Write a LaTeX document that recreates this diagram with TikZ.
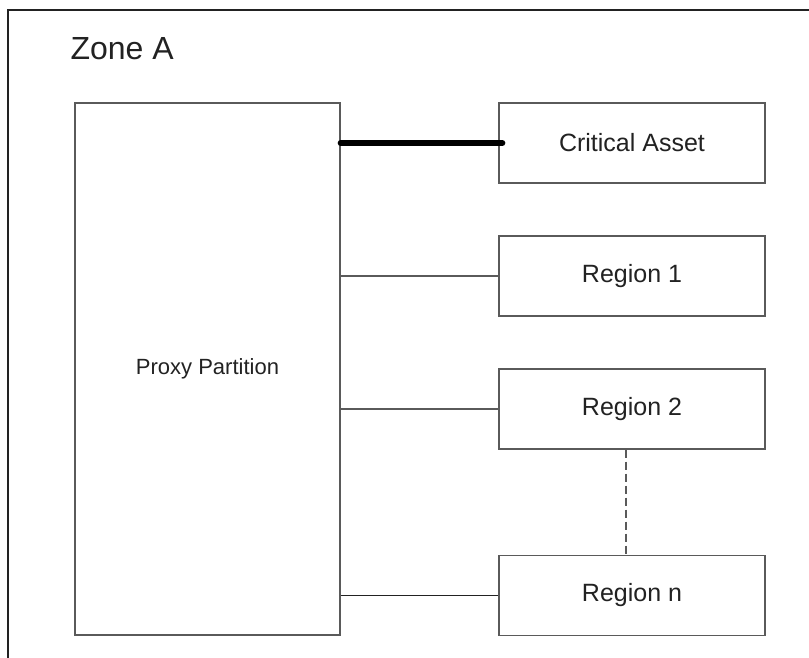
\documentclass[tikz,border=0pt]{standalone}
\usepackage{fontspec}
\setmainfont{Liberation Sans}
\usetikzlibrary{calc}
\definecolor{edge}{HTML}{5A5A5A}
\definecolor{ink}{HTML}{222222}
\tikzset{
  box/.style={draw=edge, line width=1.3pt, fill=white, inner sep=0pt},
  link/.style={draw=edge, line width=1.1pt},
  boldlink/.style={draw=black, line width=6pt, line cap=round},
  dotlink/.style={draw=edge, line width=1.1pt, dash pattern=on 8pt off 4pt},
  lbl/.style={text=ink, font=\fontsize{25}{30}\selectfont}
}
\begin{document}
\begin{tikzpicture}[x=1pt, y=-1pt]
  \useasboundingbox (0,0) rectangle (809,657);
  % zone frame, running past the right and bottom edges
  \coordinate (zr) at (812,10);
  \coordinate (ztl) at (8,10);
  \coordinate (zb) at (8,660);
  \draw[draw=ink, line width=1.4pt] (zb) -- (ztl) -- (zr);
  \node[anchor=base west, text=ink, font=\fontsize{32}{38}\selectfont] (zone) at (67,59) {Zone A};

  % partition and attached assets
  \node[box, minimum width=265pt, minimum height=532pt, font=\fontsize{22}{26}\selectfont, text=ink] (proxy) at (207.5,369) {Proxy Partition};
  \node[box, lbl, minimum width=266pt, minimum height=80pt] (crit) at (632,143) {Critical Asset};
  \node[box, lbl, minimum width=266pt, minimum height=80pt] (r1) at (632,276) {Region 1};
  \node[box, lbl, minimum width=266pt, minimum height=80pt] (r2) at (632,409) {Region 2};
  \node[box, lbl, minimum width=266pt, minimum height=80pt] (rn) at (632,595.5) {Region n};

  % connectors
  \draw[boldlink] (proxy.east |- crit.west) -- ($(crit.west)+(4,0)$);
  \draw[link] (proxy.east |- r1.west) -- (r1.west);
  \draw[link] (proxy.east |- r2.west) -- (r2.west);
  \draw[link, draw=ink] (proxy.east |- rn.west) -- (rn.west);
  \draw[dotlink] ($(r2.south)+(-6,0)$) -- ($(rn.north)+(-6,0)$);
\end{tikzpicture}
\end{document}
